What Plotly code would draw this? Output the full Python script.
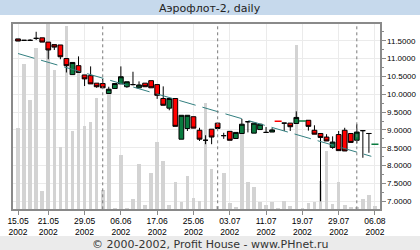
import plotly.graph_objects as go

# ---- data ----
day_index = list(range(60))
open_ = [11.55, 11.51, 11.51, 11.565, 11.58, 11.46, 11.39, 11.38, 11.00, 10.55,
         10.80, 10.54, 10.52, 10.31, 10.30, 10.02, 10.16, 10.29, 10.21, 10.27,
         10.18, 10.31, 10.38, 10.27, 9.88, 9.61, 9.88, 8.74, 9.04, 9.37,
         8.99, 8.71, 9.02, 9.19, 8.84, 8.96, 8.76, 8.90, 9.23, 8.91,
         9.01, 8.93, 8.94, 9.24, 9.19, 9.19, 9.18, 9.25, 9.27, 8.99,
         8.90, 8.80, 8.51, 8.87, 8.99, 8.90, 8.71, 8.98, 8.90, 8.60]
high = [11.55, 11.51, 11.54, 11.75, 11.58, 11.46, 11.39, 11.38, 11.00, 10.89,
        11.06, 10.54, 10.78, 10.31, 10.43, 10.21, 10.30, 10.78, 10.35, 10.63,
        10.36, 10.31, 10.38, 10.27, 10.22, 9.88, 9.88, 9.41, 9.41, 9.37,
        9.06, 8.85, 9.02, 9.19, 8.92, 8.96, 8.93, 9.31, 9.23, 9.19,
        9.16, 9.08, 9.05, 9.24, 9.19, 9.19, 9.52, 9.25, 9.27, 9.13,
        8.90, 8.88, 8.82, 8.97, 9.06, 8.90, 9.16, 8.98, 8.90, 8.60]
low = [11.49, 11.51, 11.51, 11.52, 11.46, 10.98, 11.24, 10.98, 10.61, 10.55,
       10.61, 10.23, 10.29, 10.18, 10.18, 10.02, 10.16, 10.29, 10.18, 10.25,
       10.18, 10.21, 10.18, 9.87, 9.69, 9.55, 9.10, 8.74, 8.97, 9.05,
       8.69, 8.60, 8.60, 9.04, 8.75, 8.71, 8.76, 8.90, 8.93, 8.91,
       9.01, 8.93, 8.94, 9.24, 8.97, 8.97, 9.18, 9.25, 8.98, 8.88,
       7.00, 8.69, 8.47, 8.42, 8.41, 8.65, 8.62, 8.22, 8.36, 8.60]
close = [11.49, 11.51, 11.51, 11.565, 11.46, 11.24, 11.32, 11.05, 10.80, 10.89,
         10.61, 10.43, 10.29, 10.21, 10.18, 10.14, 10.30, 10.49, 10.35, 10.27,
         10.26, 10.21, 10.18, 9.97, 9.69, 9.88, 9.10, 9.41, 9.41, 9.05,
         8.74, 8.71, 8.80, 9.04, 8.84, 8.71, 8.93, 9.16, 9.23, 9.19,
         9.16, 8.93, 9.00, 9.24, 9.19, 9.09, 9.35, 9.25, 9.10, 8.88,
         8.79, 8.69, 8.66, 8.42, 8.41, 8.65, 8.94, 8.98, 8.90, 8.60]
volume = [245, 435, 327, 485, 57, 556, 419, 189, 551, 234,
          408, 251, 261, 335, 59, 348, 6, 164, 6, 33,
          138, 15, 110, 204, 145, 13, 83, 24, 102, 36,
          27, 318, 123, 12, 111, 21, 9, 243, 83, 69,
          24, 13, 24, 6, 27, 10, 493, 6, 21, 24,
          87, 177, 18, 84, 15, 9, 9, 33, 45, 12]
# flat marks drawn as coloured dashes
dash_days = [43, 47, 59]
dash_colors = ["#ff0000", "#087a3e", "#087a3e"]
# trend line end points
trend_x = [0, 58.4]
trend_y = [11.14, 8.26]
# month starts
month_start_days = [14, 33, 56]
tick_days = [0, 5, 11, 17, 23, 29, 35, 41, 47, 53, 59]
tick_labels = ["15.05", "21.05", "29.05", "06.06", "17.06", "25.06",
               "03.07", "11.07", "19.07", "29.07", "06.08"]
tick_year = "2002"

RED = "#ff0000"
GREEN = "#087a3e"
AXIS = "#8a8a8a"
GRID = "#ebebeb"
FAM = "Liberation Sans, Arial, sans-serif"
XFONT = dict(family=FAM, size=8.5, color="#000")
YFONT = dict(family=FAM, size=8, color="#000")

cidx = [i for i in day_index if i not in dash_days]

fig = go.Figure()
fig.add_trace(go.Bar(x=day_index, y=volume, yaxis="y", marker=dict(color="#d3d3d3", line=dict(width=0)),
                     width=0.6, hoverinfo="skip"))
fig.add_trace(go.Scatter(x=trend_x, y=trend_y, yaxis="y2", mode="lines",
                         line=dict(color="#337f80", width=1, dash="17px,7px"), hoverinfo="skip"))
fig.add_trace(go.Candlestick(
    x=cidx, open=[open_[i] for i in cidx], high=[high[i] for i in cidx],
    low=[low[i] for i in cidx], close=[close[i] for i in cidx], yaxis="y2",
    increasing=dict(fillcolor=GREEN, line=dict(color="#000", width=1)),
    decreasing=dict(fillcolor=RED, line=dict(color="#000", width=1)),
    whiskerwidth=0, hoverinfo="skip"))
fig.add_trace(go.Scatter(x=dash_days, y=[open_[i] for i in dash_days], yaxis="y2", mode="markers",
                         marker=dict(symbol="line-ew", size=5, line=dict(color=dash_colors, width=1.5)),
                         hoverinfo="skip"))

shapes = [
    dict(type="rect", xref="paper", yref="paper", x0=0, x1=1, y0=1 - 15 / 250, y1=1,
         fillcolor="#c6d9ec", line=dict(width=0), layer="below"),
    dict(type="rect", xref="paper", yref="paper", x0=0, x1=1, y0=0, y1=14 / 250,
         fillcolor="#ebebeb", line=dict(width=0), layer="below"),
]
for d in month_start_days:
    shapes.append(dict(type="line", xref="x", yref="paper", x0=d, x1=d,
                       y0=1 - 209.3 / 250, y1=1 - 23.7 / 250,
                       line=dict(color="#7a7a7a", width=1, dash="3px,3px"), layer="above"))

fig.update_layout(
    width=420, height=250, template="none",
    margin=dict(l=0, r=0, t=0, b=0),
    paper_bgcolor="#ffffff", plot_bgcolor="#ffffff",
    showlegend=False, bargap=0, boxgap=0.22, boxgroupgap=0,
    xaxis=dict(domain=[13 / 420, 379.5 / 420], range=[-0.83, 59.75], anchor="y",
               tickmode="array", tickvals=tick_days,
               ticktext=[f"{t}<br>{tick_year}" for t in tick_labels],
               ticks="outside", ticklen=4, tickcolor=AXIS, tickwidth=1,
               ticklabelstandoff=-2,
               showgrid=True, gridcolor=GRID, gridwidth=1, zeroline=False,
               showline=True, mirror=True, linecolor=AXIS, linewidth=2,
               tickfont=XFONT, automargin=False, rangeslider=dict(visible=False)),
    yaxis=dict(domain=[1 - 209.3 / 250, 1 - 23.7 / 250], range=[0, 556], visible=False,
               showgrid=False, zeroline=False, automargin=False),
    yaxis2=dict(domain=[1 - 209.3 / 250, 1 - 23.7 / 250], range=[6.776, 11.976],
                overlaying="y", side="right", anchor="x",
                tick0=7, dtick=0.5, tickformat=".4f",
                ticks="outside", ticklen=4, tickcolor=AXIS, tickwidth=1,
                minor=dict(dtick=0.25, tick0=7, ticks="outside", ticklen=2, tickcolor=AXIS, showgrid=False),
                showgrid=True, gridcolor=GRID, gridwidth=1, zeroline=False,
                showline=True, mirror=True, linecolor=AXIS, linewidth=2,
                tickfont=YFONT, automargin=False),
    shapes=shapes,
    annotations=[
        dict(text="Аэрофлот-2, daily", xref="paper", yref="paper", x=0.5, y=1 - 8 / 250,
             xanchor="center", yanchor="middle", showarrow=False,
             font=dict(family="DejaVu Sans, Verdana, sans-serif", size=11, color="#222")),
        dict(text="© 2000-2002, Profit House - www.PHnet.ru", xref="paper", yref="paper",
             x=0.5, y=6 / 250, xanchor="center", yanchor="middle", showarrow=False,
             font=dict(family="DejaVu Sans, Verdana, sans-serif", size=11, color="#333")),
    ],
)

fig.write_html("out.html")
